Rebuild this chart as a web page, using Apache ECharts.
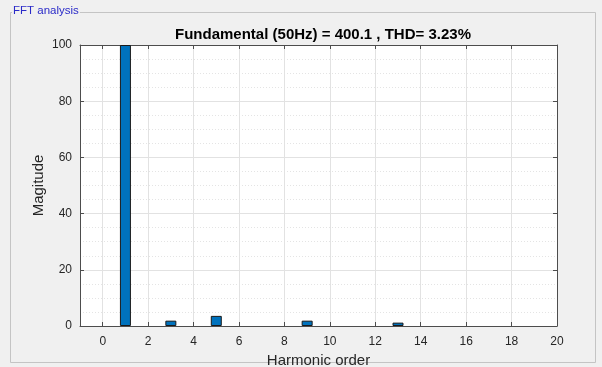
<!DOCTYPE html>
<html><head><meta charset="utf-8">
<script src="https://cdn.jsdelivr.net/npm/echarts@6/dist/echarts.min.js"></script>
<style>html,body{margin:0;padding:0;background:#f0f0f0}#c{width:602px;height:367px}</style>
</head><body><div id="c"></div>
<script>
// Data
var harmonicOrder = [1, 3, 5, 9, 13];
var magnitude = [100, 1.9, 3.6, 1.9, 1.2];
var xTickLabels = [0, 2, 4, 6, 8, 10, 12, 14, 16, 18, 20];
var yTickLabels = [0, 20, 40, 60, 80, 100];
var titleText = 'Fundamental (50Hz) = 400.1 , THD= 3.23%';
var panelTitle = 'FFT analysis';

var barData = harmonicOrder.map(function (h, i) { return [h, magnitude[i]]; });
var majorLines = xTickLabels.map(function (v) { return { xAxis: v }; });

var chart = echarts.init(document.getElementById('c'), null, { renderer: 'canvas' });
var axisCol = '#4d4d4d';
var txtCol = '#262626';
var font = 'Liberation Sans, Arial, sans-serif';

chart.setOption({
  backgroundColor: '#f0f0f0',
  animation: false,
  title: {
    text: titleText, left: 318, top: 22, textAlign: 'center',
    textStyle: { fontFamily: font, fontSize: 15, fontWeight: 'bold', color: '#000' }
  },
  grid: { left: 80, right: 45, top: 45, bottom: 41, outerBoundsMode: 'none', containLabel: false,
          backgroundColor: '#ffffff', show: true, borderWidth: 0 },
  xAxis: [{
    type: 'value', min: -1, max: 20, interval: 0.5,
    name: 'Harmonic order', nameLocation: 'middle', nameGap: 26,
    nameTextStyle: { fontFamily: font, fontSize: 15, color: txtCol },
    axisLine: { show: true, onZero: false, lineStyle: { color: axisCol, width: 1 } },
    axisTick: { show: true, inside: true, length: 4, customValues: xTickLabels, lineStyle: { color: axisCol } },
    axisLabel: { customValues: xTickLabels, fontFamily: font, fontSize: 12, color: txtCol, margin: 10 },
    splitLine: { show: true, lineStyle: { color: '#e4e4e4', type: [1, 2], width: 1 } }
  }, {
    type: 'value', position: 'top', min: -1, max: 20, interval: 0.5,
    axisLine: { show: true, onZero: false, lineStyle: { color: axisCol, width: 1 } },
    axisTick: { show: true, inside: true, length: 4, customValues: xTickLabels, lineStyle: { color: axisCol } },
    axisLabel: { show: false }, splitLine: { show: false }
  }],
  yAxis: [{
    type: 'value', min: 0, max: 100, interval: 20,
    name: 'Magitude', nameLocation: 'middle', nameGap: 34, nameMoveOverlap: false,
    nameTextStyle: { fontFamily: font, fontSize: 15, color: txtCol },
    axisLine: { show: true, onZero: false, lineStyle: { color: axisCol, width: 1 } },
    axisTick: { show: true, inside: true, length: 4, lineStyle: { color: axisCol } },
    axisLabel: { fontFamily: font, fontSize: 12, color: txtCol, margin: 8 },
    splitLine: { show: true, lineStyle: { color: '#e2e2e2', width: 1 } },
    minorTick: { show: false, splitNumber: 4 },
    minorSplitLine: { show: true, lineStyle: { color: '#e4e4e4', type: [1, 2], width: 1 } }
  }, {
    type: 'value', position: 'right', min: 0, max: 100, interval: 20,
    axisLine: { show: true, onZero: false, lineStyle: { color: axisCol, width: 1 } },
    axisTick: { show: true, inside: true, length: 4, lineStyle: { color: axisCol } },
    axisLabel: { show: false }, splitLine: { show: false }
  }],
  series: [{
    type: 'bar', xAxisIndex: 0, yAxisIndex: 0,
    data: barData, barWidth: 11,
    itemStyle: { color: '#0072BD', borderColor: '#1a1a1a', borderWidth: 1 },
    markLine: {
      silent: true, symbol: 'none', label: { show: false },
      lineStyle: { color: '#e2e2e2', type: 'solid', width: 1 },
      data: majorLines, z: 0
    },
    z: 3
  }],
  graphic: [{
    type: 'rect', z: -10, silent: true,
    shape: { x: 10.5, y: 12.5, width: 585, height: 350 },
    style: { fill: null, stroke: '#c4c4c4', lineWidth: 1 }
  }, {
    type: 'text', left: 12, top: 5, z: 10,
    style: { text: panelTitle, fill: '#2a2ac8', font: '11.5px ' + font, backgroundColor: '#f0f0f0', padding: [0, 1] }
  }]
});
</script></body></html>
